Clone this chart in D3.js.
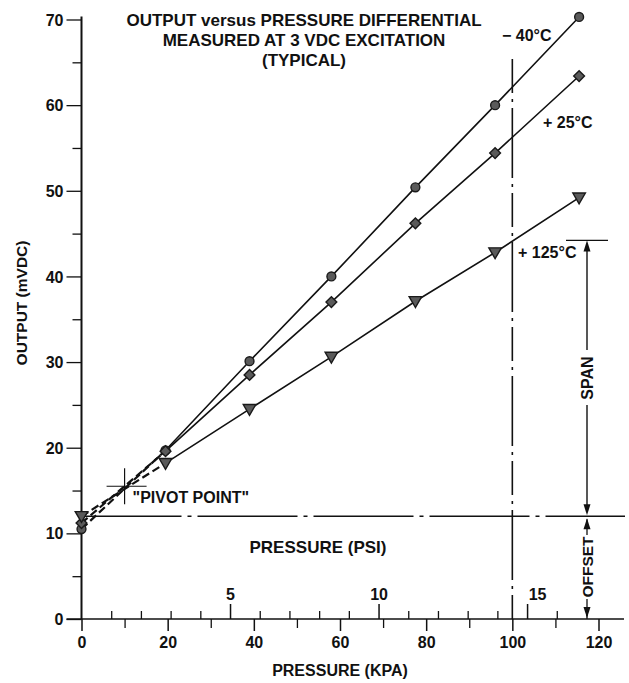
<!DOCTYPE html>
<html><head><meta charset="utf-8">
<script src="https://cdn.jsdelivr.net/npm/d3@7"></script>
<style>
body{margin:0;background:#fff;}
svg{display:block;}
text{font-family:"Liberation Sans",Arial,Helvetica,sans-serif;fill:#111;}
</style></head>
<body>
<svg id="chart" width="629" height="683"></svg>
<script>
// ---------- data ----------
const kpa = [0, 19.5, 39, 58, 77.5, 96, 115.5];
const minus40 = [10.5, 19.7, 30.1, 40.0, 50.4, 60.0, 70.3];
const plus25 = [11.2, 19.6, 28.5, 37.0, 46.2, 54.4, 63.4];
const plus125 = [12.0, 18.2, 24.5, 30.6, 37.1, 42.8, 49.2];
const seriesNames = ["\u2212 40\u00B0C", "+ 25\u00B0C", "+ 125\u00B0C"];
const yTicks = [0, 10, 20, 30, 40, 50, 60, 70];
const yMinorTicks = [5, 15, 25, 35, 45, 55, 65];
const kpaTicks = [0, 20, 40, 60, 80, 100, 120];
const kpaMinorTicks = [10, 30, 50, 70, 90, 110];
const psiTicks = [5, 10, 15];
const psiMinorTicks = [1, 2, 3, 4, 6, 7, 8, 9, 11, 12, 13, 14, 16, 17];
const pivot = [10, 15.5];
const offsetLevel = 12.0;
const spanTop = 44.2;
const refPressure = 100;
const KPA_PER_PSI = 6.89476;
const titleLines = ["OUTPUT versus PRESSURE DIFFERENTIAL", "MEASURED AT 3 VDC EXCITATION", "(TYPICAL)"];

// ---------- scales ----------
const svg = d3.select("#chart");
const x = d3.scaleLinear().domain([0, 120]).range([81.5, 598.5]);
const y = d3.scaleLinear().domain([0, 70]).range([619, 19.5]);
const psi = d3.scaleLinear().domain([0, 120 / KPA_PER_PSI]).range(x.range());

const bold = s => s.style("font-weight", "bold");

// ---------- axes ----------
const yAx = svg.append("g").attr("transform", `translate(${x(0)},0)`)
  .call(d3.axisLeft(y).tickValues(yTicks).tickSize(15).tickPadding(3));
yAx.select(".domain").remove();
yAx.selectAll("line").attr("stroke", "#111").attr("stroke-width", 1.3);
yAx.selectAll("text").style("font-size", "16px").style("font-weight", "bold").attr("dy", "0.35em");
const yMin = svg.append("g").attr("transform", `translate(${x(0)},0)`)
  .call(d3.axisLeft(y).tickValues(yMinorTicks).tickSize(9).tickFormat(""));
yMin.select(".domain").remove();
yMin.selectAll("line").attr("stroke", "#111").attr("stroke-width", 1.3);
svg.append("line").attr("x1", x(0)).attr("x2", x(0)).attr("y1", y(0)).attr("y2", y(70) - 3)
  .attr("stroke", "#111").attr("stroke-width", 2);

const xAx = svg.append("g").attr("transform", `translate(0,${y(0)})`)
  .call(d3.axisBottom(x).tickValues(kpaTicks).tickSize(12).tickPadding(4));
xAx.select(".domain").remove();
xAx.selectAll("line").attr("stroke", "#111").attr("stroke-width", 1.5);
xAx.selectAll("text").style("font-size", "16px").style("font-weight", "bold").attr("dy", "0.8em");
const xMin = svg.append("g").attr("transform", `translate(0,${y(0)})`)
  .call(d3.axisBottom(x).tickValues(kpaMinorTicks).tickSize(9).tickFormat(""));
xMin.select(".domain").remove();
xMin.selectAll("line").attr("stroke", "#111").attr("stroke-width", 1.3);

const pAx = svg.append("g").attr("transform", `translate(0,${y(0)})`)
  .call(d3.axisTop(psi).tickValues(psiTicks).tickSize(15).tickPadding(4));
pAx.select(".domain").remove();
pAx.selectAll("line").attr("stroke", "#111").attr("stroke-width", 1.5);
pAx.selectAll("text").style("font-size", "16px").style("font-weight", "bold");
pAx.selectAll(".tick").filter(d => d === 15).select("text").attr("x", 10);
const pMin = svg.append("g").attr("transform", `translate(0,${y(0)})`)
  .call(d3.axisTop(psi).tickValues(psiMinorTicks).tickSize(8).tickFormat(""));
pMin.select(".domain").remove();
pMin.selectAll("line").attr("stroke", "#111").attr("stroke-width", 1.3);

svg.append("line").attr("x1", x(0) - 15).attr("x2", 624).attr("y1", y(0)).attr("y2", y(0))
  .attr("stroke", "#111").attr("stroke-width", 1.6);

// axis titles
svg.append("text").attr("x", 340).attr("y", 676).attr("text-anchor", "middle")
  .style("font-size", "16px").text("PRESSURE (KPA)").call(bold);
svg.append("text").attr("x", 318).attr("y", 553).attr("text-anchor", "middle")
  .style("font-size", "17px").text("PRESSURE (PSI)").call(bold);
svg.append("text").attr("transform", "translate(27,303) rotate(-90)").attr("text-anchor", "middle")
  .style("font-size", "15.5px").text("OUTPUT (mVDC)").call(bold);

// title
svg.append("g").selectAll("text").data(titleLines).join("text")
  .attr("x", 304).attr("y", (d, i) => 26 + i * 20).attr("text-anchor", "middle")
  .style("font-size", "17px").style("font-weight", "bold").text(d => d);

// ---------- reference lines ----------
svg.append("line").attr("x1", x(0)).attr("x2", 625).attr("y1", y(offsetLevel)).attr("y2", y(offsetLevel))
  .attr("stroke", "#111").attr("stroke-width", 1.4).attr("stroke-dasharray", "100,6,4,6");
svg.append("line").attr("x1", x(refPressure)).attr("x2", x(refPressure)).attr("y1", y(65.4)).attr("y2", y(0))
  .attr("stroke", "#111").attr("stroke-width", 1.6).attr("stroke-dasharray", "34,6,3,6,70,6,3,6");

// span / offset annotations
const ax = 587;
svg.append("line").attr("x1", 566).attr("x2", 608).attr("y1", y(spanTop)).attr("y2", y(spanTop))
  .attr("stroke", "#111").attr("stroke-width", 1.3);
function arrowHead(xp, yp, dir) {
  svg.append("path").attr("d", `M${xp},${yp} L${xp - 3.5},${yp - dir * 11} L${xp + 3.5},${yp - dir * 11} Z`).attr("fill", "#111");
}
svg.append("line").attr("x1", ax).attr("x2", ax).attr("y1", y(spanTop) + 4).attr("y2", 350).attr("stroke", "#111").attr("stroke-width", 1.4);
svg.append("line").attr("x1", ax).attr("x2", ax).attr("y1", 405).attr("y2", y(offsetLevel) - 4).attr("stroke", "#111").attr("stroke-width", 1.4);
arrowHead(ax, y(spanTop), -1);
arrowHead(ax, y(offsetLevel) - 1, 1);
svg.append("text").attr("transform", `translate(${ax + 6},378) rotate(-90)`).attr("text-anchor", "middle")
  .style("font-size", "16px").text("SPAN").call(bold);
svg.append("line").attr("x1", ax).attr("x2", ax).attr("y1", y(offsetLevel) + 3).attr("y2", 535).attr("stroke", "#111").attr("stroke-width", 1.3);
arrowHead(ax, y(offsetLevel) + 2, -1);
svg.append("line").attr("x1", ax).attr("x2", ax).attr("y1", 599).attr("y2", y(0) - 3).attr("stroke", "#111").attr("stroke-width", 1.3);
arrowHead(ax, y(0) - 1, 1);
svg.append("text").attr("transform", `translate(${ax + 6},567) rotate(-90)`).attr("text-anchor", "middle")
  .style("font-size", "15.5px").text("OFFSET").call(bold);

// pivot point
svg.append("line").attr("x1", x(pivot[0]) - 18).attr("x2", x(pivot[0]) + 22).attr("y1", y(pivot[1])).attr("y2", y(pivot[1]))
  .attr("stroke", "#111").attr("stroke-width", 1.2);
svg.append("line").attr("x1", x(pivot[0])).attr("x2", x(pivot[0])).attr("y1", y(pivot[1]) - 18).attr("y2", y(pivot[1]) + 18)
  .attr("stroke", "#111").attr("stroke-width", 1.2);
svg.append("text").attr("x", x(pivot[0]) + 8).attr("y", y(pivot[1]) + 17)
  .style("font-size", "16px").text("\"PIVOT POINT\"").call(bold);

// ---------- series ----------
const series = [
  {name: seriesNames[0], vals: minus40, sym: d3.symbolCircle, size: 62, rot: 0, lx: 502, ly: 41},
  {name: seriesNames[1], vals: plus25, sym: d3.symbolSquare, size: 58, rot: 45, lx: 543, ly: 128},
  {name: seriesNames[2], vals: plus125, sym: d3.symbolTriangle, size: 68, rot: 180, lx: 518, ly: 258}
];
const line = d3.line().x(d => x(d[0])).y(d => y(d[1]));
series.forEach(s => {
  const pts = kpa.map((k, i) => [k, s.vals[i]]);
  svg.append("path").attr("d", line(pts.slice(0, 2))).attr("fill", "none")
    .attr("stroke", "#111").attr("stroke-width", 2.2).attr("stroke-dasharray", "8,4");
  svg.append("path").attr("d", line(pts.slice(1))).attr("fill", "none")
    .attr("stroke", "#111").attr("stroke-width", 1.6);
});
series.forEach(s => {
  const pts = kpa.map((k, i) => [k, s.vals[i]]);
  svg.append("g").selectAll("path").data(pts).join("path")
    .attr("d", d3.symbol().type(s.sym).size(s.size))
    .attr("transform", d => `translate(${x(d[0])},${y(d[1]) + (s.rot === 180 ? -1 : 0)}) rotate(${s.rot})`)
    .attr("fill", "#5a5a5a").attr("stroke", "#1a1a1a").attr("stroke-width", 1.4);
  svg.append("text").attr("x", s.lx).attr("y", s.ly).style("font-size", "16px")
    .style("font-weight", "bold").text(s.name);
});
</script>
</body></html>
